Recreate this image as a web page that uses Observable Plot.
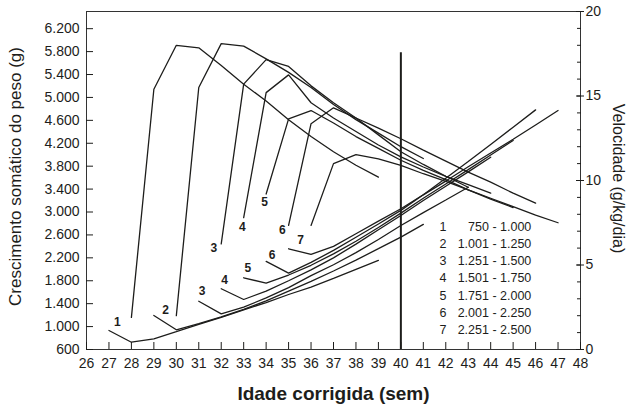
<!DOCTYPE html>
<html>
<head>
<meta charset="utf-8">
<script src="https://cdn.jsdelivr.net/npm/d3@7"></script>
<script src="https://cdn.jsdelivr.net/npm/@observablehq/plot@0.6"></script>
<style>
  html, body { margin: 0; padding: 0; background: #fff; }
  #chart svg { display: block; }
</style>
</head>
<body>
<div id="chart"></div>
<script>
// ---- data ----
const groupIds = ["1", "2", "3", "4", "5", "6", "7"];
const legendRanges = ["750 - 1.000", "1.001 - 1.250", "1.251 - 1.500", "1.501 - 1.750",
                      "1.751 - 2.000", "2.001 - 2.250", "2.251 - 2.500"];

// weight curves (g), one value per week starting at weightStartAge
const weightStartAge = [27, 29, 31, 32, 33, 34, 35];
const weightG1 = [932, 727, 787, 910, 1040, 1160, 1290, 1420, 1560, 1690, 1840, 2000, 2154];
const weightG2 = [1194, 944, 1050, 1170, 1300, 1450, 1620, 1790, 1970, 2160, 2360, 2562, 2783];
const weightG3 = [1443, 1223, 1340, 1500, 1680, 1890, 2080, 2290, 2520, 2765, 2990, 3210, 3432];
const weightG4 = [1660, 1473, 1620, 1800, 1990, 2200, 2440, 2690, 2940, 3200, 3450, 3700, 3957];
const weightG5 = [1852, 1758, 1900, 2070, 2270, 2490, 2730, 2981, 3240, 3490, 3740, 3995, 4249];
const weightG6 = [2137, 1932, 2120, 2330, 2560, 2790, 3028, 3300, 3590, 3880, 4180, 4480, 4783];
const weightG7 = [2358, 2259, 2400, 2620, 2840, 3057, 3300, 3540, 3790, 4030, 4270, 4520, 4771];

// velocity curves (g/kg/dia), one value per week starting at velStartAge
const velStartAge = [28, 30, 32, 33, 34, 35, 36];
const velG1 = [1.9, 15.4, 18.0, 17.85, 16.8, 15.7, 14.7, 13.6, 12.6, 11.7, 10.9, 10.2];
const velG2 = [2.0, 15.5, 18.1, 17.95, 17.2, 16.4, 15.5, 14.5, 13.6, 12.8, 12.0, 11.3];
const velG3 = [6.25, 15.7, 17.15, 16.75, 15.6, 14.6, 13.7, 12.7, 11.7, 10.95, 10.25, 9.6];
const velG4 = [7.8, 15.2, 16.25, 14.6, 13.7, 12.9, 12.1, 11.4, 10.8, 10.25, 9.75, 9.25];
const velG5 = [9.2, 13.65, 14.14, 13.4, 12.6, 11.9, 11.2, 10.6, 10.05, 9.45, 8.9, 8.4];
const velG6 = [7.34, 13.36, 14.3, 13.7, 13.1, 12.47, 11.8, 11.15, 10.5, 9.9, 9.25, 8.66];
const velG7 = [7.34, 11.0, 11.53, 11.28, 10.89, 10.4, 9.95, 9.45, 8.95, 8.45, 7.95, 7.5];

// curve labels (age, weight-scale height)
const labelText   = ["1", "2", "3", "3", "4", "4", "5", "5", "6", "6", "7"];
const labelAge    = [27.37, 29.52, 31.15, 31.67, 32.15, 32.94, 33.18, 33.93, 34.27, 34.72, 35.53];
const labelWeight = [1077, 1293, 1618, 2376, 1805, 2736, 2020, 3172, 2241, 2690, 2515];

// vertical reference line (term, 40 weeks)
const termAge = 40;
const termLineTop = 5780;

// ticks
const xTicks = d3.range(26, 49, 1);
const leftTicks = d3.range(600, 6201, 400);
const rightMinorTicks = d3.range(0, 21, 1);
const rightTicks = [0, 5, 10, 15, 20];

// ---- scales: velocity 0–20 shares the frame with weight 600–6500 ----
const W0 = 600, W1 = 6500, V1 = 20;
const vToW = v => W0 + v * (W1 - W0) / V1;

const ptFormat = d3.formatLocale({decimal: ",", thousands: ".", grouping: [3], currency: ["", ""]}).format(",");

const weightSeries = [weightG1, weightG2, weightG3, weightG4, weightG5, weightG6, weightG7];
const velSeries = [velG1, velG2, velG3, velG4, velG5, velG6, velG7];

const weightRows = groupIds.flatMap((g, i) =>
  weightSeries[i].map((w, j) => ({g, age: weightStartAge[i] + j, w})));
const velRows = groupIds.flatMap((g, i) =>
  velSeries[i].map((v, j) => ({g, age: velStartAge[i] + j, v})));
const labelRows = labelText.map((t, i) => ({t, age: labelAge[i], w: labelWeight[i]}));

const legendRowStep = 302.5;
const legendTop = 2747;
const legendRows = groupIds.map((g, i) => ({g, r: legendRanges[i], w: legendTop - i * legendRowStep}));

const ink = "#1d1d1b";

const chart = Plot.plot({
  width: 629,
  height: 408,
  marginLeft: 86,
  marginRight: 49,
  marginTop: 11,
  marginBottom: 59,
  style: {fontFamily: "'Liberation Sans', Arial, Helvetica, sans-serif", fontSize: "14px", color: ink, background: "#fff"},
  x: {domain: [26, 48]},
  y: {domain: [W0, W1]},
  marks: [
    Plot.frame({stroke: "#333", strokeWidth: 1}),
    // x axis (ticks inside)
    Plot.axisX(xTicks, {anchor: "bottom", tickSize: 7, dy: -7, tickPadding: 9, fontSize: 14, tickFormat: d => d, label: null}),
    // left axis (ticks inside)
    Plot.axisY(leftTicks, {anchor: "left", tickSize: 7, dx: 7, tickPadding: 7, fontSize: 14, tickFormat: ptFormat, label: null}),
    // right axis minor + major ticks
    Plot.axisY(rightMinorTicks, {anchor: "right", y: vToW, tickSize: 4, dx: -4, tickFormat: () => "", label: null}),
    Plot.axisY(rightTicks, {anchor: "right", y: vToW, tickSize: 8, dx: -5, tickFormat: () => "", label: null}),
    Plot.text(rightTicks, {y: vToW, text: d => String(d), frameAnchor: "right", textAnchor: "start", lineAnchor: "middle", dx: 5, fontSize: 14, fill: ink}),
    // curves
    Plot.line(weightRows, {x: "age", y: "w", z: "g", stroke: ink, strokeWidth: 1.3, strokeLinejoin: "miter"}),
    Plot.line(velRows, {x: "age", y: d => vToW(d.v), z: "g", stroke: ink, strokeWidth: 1.3, strokeLinejoin: "miter"}),
    Plot.ruleX([termAge], {y1: W0, y2: termLineTop, stroke: ink, strokeWidth: 2}),
    // curve labels
    Plot.text(labelRows, {x: "age", y: "w", text: "t", fontWeight: "bold", fontSize: 12, fill: ink}),
    // legend
    Plot.text(legendRows, {x: 41.72, y: "w", text: "g", textAnchor: "start", fontSize: 12.5, fill: ink}),
    Plot.text(legendRows, {x: 45.81, y: "w", text: "r", textAnchor: "end", fontSize: 12.5, fill: ink}),
    // axis titles
    Plot.text(["Idade corrigida (sem)"], {frameAnchor: "bottom", textAnchor: "middle", lineAnchor: "middle", dy: 44, fontWeight: "bold", fontSize: 19, fill: ink}),
    Plot.text(["Crescimento somático do peso (g)"], {frameAnchor: "left", textAnchor: "middle", lineAnchor: "middle", rotate: -90, dx: -71, dy: -4, fontSize: 17, fill: ink}),
    Plot.text(["Velocidade (g/kg/dia)"], {frameAnchor: "right", textAnchor: "middle", lineAnchor: "middle", rotate: 90, dx: 38, dy: -2, fontSize: 16, fill: ink})
  ]
});

document.getElementById("chart").appendChild(chart);
</script>
</body>
</html>
